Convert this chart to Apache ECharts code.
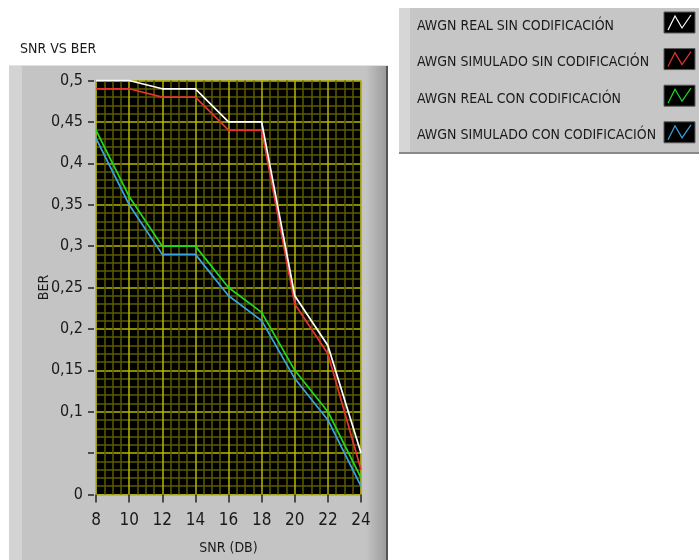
<!DOCTYPE html>
<html>
<head>
<meta charset="utf-8">
<script src="https://cdn.jsdelivr.net/npm/echarts@6/dist/echarts.min.js"></script>
<style>
  html, body { margin: 0; padding: 0; background: #ffffff; }
  #chart { width: 699px; height: 560px; }
</style>
</head>
<body>
<div id="chart"></div>
<script>
// SNR sweep (dB) and measured / simulated bit error rates
const snr = [8, 10, 12, 14, 16, 18, 20, 22, 24];
const realSinCod = [0.5, 0.5, 0.49, 0.49, 0.45, 0.45, 0.24, 0.18, 0.05];
const simSinCod  = [0.49, 0.49, 0.48, 0.48, 0.44, 0.44, 0.23, 0.17, 0.03];
const realConCod = [0.44, 0.36, 0.30, 0.30, 0.25, 0.22, 0.15, 0.10, 0.02];
const simConCod  = [0.43, 0.35, 0.29, 0.29, 0.24, 0.21, 0.14, 0.09, 0.01];

const seriesNames = [
  'AWGN REAL SIN CODIFICACIÓN',
  'AWGN SIMULADO SIN CODIFICACIÓN',
  'AWGN REAL CON CODIFICACIÓN',
  'AWGN SIMULADO CON CODIFICACIÓN'
];
const seriesData = [realSinCod, simSinCod, realConCod, simConCod];
const seriesColors = ['#ffffff', '#e8332f', '#1fdc1f', '#38a6e2'];

// BER tick labels (the 0.05 tick carries no text)
const yTickLabels = {
  '0': '0', '0.05': '', '0.1': '0,1', '0.15': '0,15', '0.2': '0,2',
  '0.25': '0,25', '0.3': '0,3', '0.35': '0,35', '0.4': '0,4',
  '0.45': '0,45', '0.5': '0,5'
};

const FONT = '"DejaVu Sans Condensed", "Liberation Sans Narrow", sans-serif';

const chart = echarts.init(document.getElementById('chart'), null, { renderer: 'canvas' });

// plot legend: name on the left, black swatch with a zigzag trace on the right
const legendRowStep = 36.6;
const legendItems = seriesNames.flatMap((name, i) => {
  const top = 12 + i * legendRowStep;
  return [
    { type: 'text', x: 417, y: top + 14,
      style: { text: name, fontFamily: FONT, fontSize: 14, fill: '#1a1a1a',
               verticalAlign: 'middle', align: 'left' }, z: 2 },
    { type: 'rect', shape: { x: 664, y: top, width: 31, height: 21 },
      style: { fill: '#000000', stroke: '#5a5a5a', lineWidth: 1 }, z: 2 },
    { type: 'polyline',
      shape: { points: [[668, top + 18], [675, top + 4], [682, top + 16], [691, top + 3]] },
      style: { stroke: seriesColors[i], lineWidth: 1.2, fill: null }, z: 3 }
  ];
});

chart.setOption({
  backgroundColor: '#ffffff',
  animation: false,
  textStyle: { fontFamily: FONT },
  title: {
    text: 'SNR VS BER',
    left: 15, top: 37,
    textStyle: { fontFamily: FONT, fontSize: 14, fontWeight: 'normal', color: '#1a1a1a' }
  },
  graphic: [
    // graph panel (kept underneath the plot area)
    { type: 'rect', shape: { x: 9, y: 65, width: 379, height: 500 },
      style: { fill: '#c4c4c4' }, z: -5 },
    { type: 'rect', shape: { x: 9, y: 65, width: 13, height: 500 },
      style: { fill: '#d3d3d3' }, z: -5 },
    { type: 'rect', shape: { x: 366, y: 65, width: 20, height: 500 },
      style: { fill: new echarts.graphic.LinearGradient(0, 0, 1, 0, [
        { offset: 0, color: '#c4c4c4' }, { offset: 1, color: '#9c9c9c' }
      ]) }, z: -5 },
    { type: 'rect', shape: { x: 386, y: 65, width: 2, height: 500 },
      style: { fill: '#555555' }, z: -5 },
    { type: 'rect', shape: { x: 9, y: 65, width: 379, height: 1 },
      style: { fill: '#e2e2e2' }, z: -5 },
    // legend panel
    { type: 'rect', shape: { x: 399, y: 8, width: 300, height: 146 },
      style: { fill: '#c6c6c6' }, z: -5 },
    { type: 'rect', shape: { x: 399, y: 8, width: 11, height: 146 },
      style: { fill: '#d6d6d6' }, z: -5 },
    { type: 'rect', shape: { x: 399, y: 152, width: 300, height: 2 },
      style: { fill: '#8a8a8a' }, z: -5 },
    ...legendItems
  ],
  legend: { show: false, data: seriesNames },
  grid: {
    left: 96, right: 338, top: 80.5, bottom: 65.5,
    outerBoundsMode: 'none',
    show: true,
    backgroundColor: '#000000',
    borderColor: '#8c8c8c', borderWidth: 1,
    containLabel: false
  },
  xAxis: {
    type: 'value',
    min: 8, max: 24, interval: 2,
    offset: 3,
    name: 'SNR (DB)',
    nameLocation: 'middle',
    nameGap: 44,
    nameMoveOverlap: false,
    nameTextStyle: { fontFamily: FONT, fontSize: 14, color: '#1a1a1a' },
    axisLine: { show: false },
    axisTick: { show: true, length: 8, lineStyle: { color: '#222222', width: 1.5 } },
    axisLabel: { margin: 15, fontFamily: FONT, fontSize: 17, color: '#1a1a1a' },
    splitLine: { show: true, lineStyle: { color: '#b8b800', width: 1.5 } },
    minorTick: { show: false, splitNumber: 4 },
    minorSplitLine: { show: true, lineStyle: { color: '#5c5c00', width: 1.5 } }
  },
  yAxis: {
    type: 'value',
    min: 0, max: 0.5, interval: 0.05,
    offset: 2,
    name: 'BER',
    nameLocation: 'middle',
    nameGap: 43,
    nameMoveOverlap: false,
    nameRotate: 90,
    nameTextStyle: { fontFamily: FONT, fontSize: 14, color: '#1a1a1a' },
    axisLine: { show: false },
    axisTick: { show: true, length: 6, lineStyle: { color: '#222222', width: 1.5 } },
    axisLabel: {
      margin: 11, fontFamily: FONT, fontSize: 16, color: '#1a1a1a',
      formatter: v => {
        const key = String(Math.round(v * 100) / 100);
        return yTickLabels[key] !== undefined ? yTickLabels[key] : key;
      }
    },
    splitLine: { show: true, lineStyle: { color: '#b8b800', width: 1.5 } },
    minorTick: { show: false, splitNumber: 5 },
    minorSplitLine: { show: true, lineStyle: { color: '#5c5c00', width: 1.5 } }
  },
  series: seriesNames.map((name, i) => ({
    name,
    type: 'line',
    data: snr.map((x, j) => [x, seriesData[i][j]]),
    symbol: 'none',
    color: seriesColors[i],
    lineStyle: { width: 1.7, color: seriesColors[i] },
    clip: false,
    z: 3 + (3 - i)
  }))
});
</script>
</body>
</html>
